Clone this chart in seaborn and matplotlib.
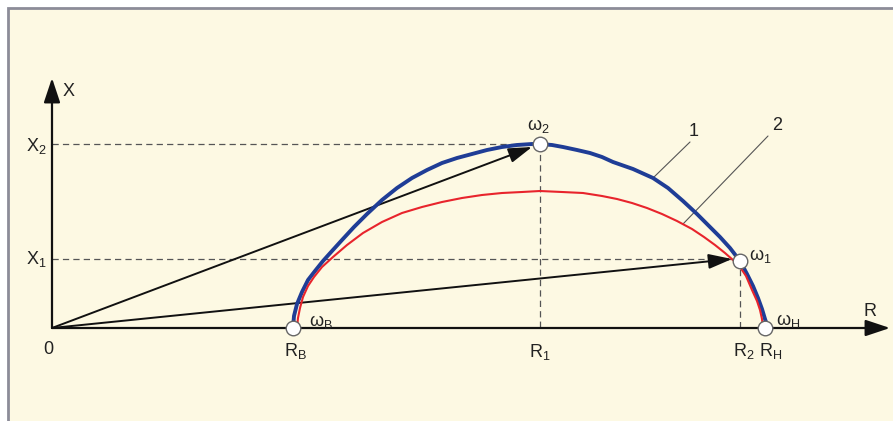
import matplotlib
matplotlib.use('Agg')
import matplotlib.pyplot as plt
from matplotlib.patches import Rectangle
import seaborn as sns
import pandas as pd

# curve 1 (blue) and curve 2 (red)
blue_r = [241, 242, 245, 250, 256, 263, 271, 280, 290, 302, 315, 330, 345, 360, 375,
          390, 405, 420, 435, 450, 465, 480, 488, 500, 511, 525, 538, 550, 561, 581,
          601, 616, 631, 645, 656, 668, 678, 688, 695, 701, 706, 710, 713, 715, 713]
blue_x = [0, 12, 24, 36, 48, 57, 67, 77, 88, 101, 114, 128, 140, 150, 158,
          165, 170, 174, 178, 181, 183, 184, 184, 183, 181, 178, 175, 171, 166, 159,
          150, 140, 127, 114, 103, 91, 80, 67, 54, 42, 30, 19, 9, 3, 0]
red_r = [245, 246, 248, 251, 256, 262, 270, 281, 295, 311, 330, 350, 370, 390, 410,
         430, 450, 470, 488, 510, 531, 550, 565, 580, 595, 610, 625, 640, 652, 663,
         673, 681, 688, 694, 700, 705, 708, 710, 711]
red_x = [0, 10, 20, 31, 42, 51, 61, 71, 83, 95, 106, 115, 121, 126, 130,
         133, 135, 136, 137, 136, 135, 132, 129, 125, 120, 114, 107, 99, 91, 83,
         75, 68, 61, 52, 38, 27, 18, 9, 0]

# marked points
point_names = ['RB', 'w2', 'w1', 'RH']
point_r = [241, 488, 688, 713]
point_x = [0, 184, 67, 0]
R1, R2, X1, X2 = 488, 688, 69, 184

sns.set_theme(style='white')
plt.rcParams['font.family'] = ['Liberation Sans Narrow', 'Liberation Sans', 'DejaVu Sans']
plt.rcParams['mathtext.fontset'] = 'custom'
plt.rcParams['mathtext.rm'] = 'Liberation Sans'
plt.rcParams['mathtext.it'] = 'Liberation Sans'
plt.rcParams['lines.scale_dashes'] = False

fig = plt.figure(figsize=(8.93, 4.21), dpi=100, facecolor='white')
ax = fig.add_axes([0, 0, 1, 1])
ax.set_xlim(-52, 841)
ax.set_ylim(-93, 328)
ax.axis('off')

# panel background
ax.add_patch(Rectangle((-44, -120), 920, 440, facecolor='#fdf9e3',
                       edgecolor='#8c8c98', lw=2, zorder=0))

# axes with arrows
axis_arrow = dict(arrowstyle='-|>,head_length=1.5,head_width=0.5', mutation_scale=10,
                  lw=1.6, color='#111111', shrinkA=0, shrinkB=0)
ax.annotate('', xy=(0, 250), xytext=(0, 0), arrowprops=axis_arrow, zorder=3)
ax.annotate('', xy=(838, 0), xytext=(0, 0), arrowprops=axis_arrow, zorder=3)

# dashed guides
dash = dict(color='#555555', lw=0.9, linestyle=(0, (4.5, 3)), zorder=2)
ax.plot([0, R1], [X2, X2], **dash)
ax.plot([R1, R1], [X2, 0], **dash)
ax.plot([0, R2], [X1, X1], **dash)
ax.plot([R2, R2], [X1, 0], **dash)

# vectors from origin
vec = dict(arrowstyle='-|>,head_length=1.2,head_width=0.38', mutation_scale=12,
           lw=1.4, color='#111111', shrinkA=0, shrinkB=0)
ax.annotate('', xy=(480, 181), xytext=(0, 0), arrowprops=vec, zorder=4)
ax.annotate('', xy=(680, 69), xytext=(0, 0), arrowprops=vec, zorder=4)

# curves
sns.lineplot(x=blue_r, y=blue_x, sort=False, estimator=None, color='#1f3d96',
             lw=2.8, ax=ax, zorder=5)
sns.lineplot(x=red_r, y=red_x, sort=False, estimator=None, color='#e8242c',
             lw=1.5, ax=ax, zorder=6)

# leader lines for curve numbers
ax.plot([638, 601], [186, 150], color='#555555', lw=0.8, zorder=4)
ax.plot([716, 631], [192, 104], color='#555555', lw=0.8, zorder=4)

pts = pd.DataFrame({'name': point_names, 'r': point_r, 'x': point_x})
sns.scatterplot(data=pts, x='r', y='x', s=110, color='white', edgecolor='#666666',
                linewidth=1, ax=ax, zorder=7, legend=False)

txt = dict(fontsize=13, color='#222222', zorder=8)
ax.text(11, 236, 'X', ha='left', va='center', **txt)
ax.text(-5, 182, r'$\mathregular{X_2}$', ha='right', va='center', **txt)
ax.text(-5, 69, r'$\mathregular{X_1}$', ha='right', va='center', **txt)
ax.text(-4, -22, '0', ha='center', va='center', **txt)
ax.text(243, -23, r'$\mathregular{R_B}$', ha='center', va='center', **txt)
ax.text(488, -24, r'$\mathregular{R_1}$', ha='center', va='center', **txt)
ax.text(692, -23, r'$\mathregular{R_2}$', ha='center', va='center', **txt)
ax.text(719, -23, r'$\mathregular{R_H}$', ha='center', va='center', **txt)
ax.text(818, 16, 'R', ha='center', va='center', **txt)
ax.text(486, 202, r'$\mathregular{\omega_2}$', ha='center', va='center', **txt)
ax.text(697, 72, r'$\mathregular{\omega_1}$', ha='left', va='center', **txt)
ax.text(257, 6, r'$\mathregular{\omega_B}$', ha='left', va='center', **txt)
ax.text(724, 7, r'$\mathregular{\omega_H}$', ha='left', va='center', **txt)
ax.text(642, 196, '1', ha='center', va='center', **txt)
ax.text(725, 202, '2', ha='center', va='center', **txt)

fig.savefig('out.png', dpi=100)
